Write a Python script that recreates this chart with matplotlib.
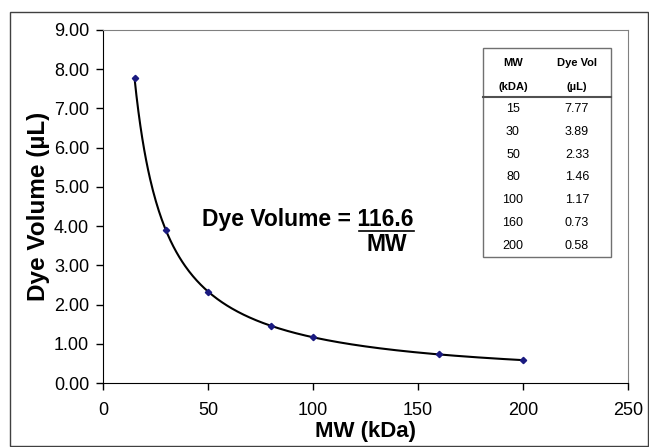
import numpy as np
import matplotlib.pyplot as plt
from matplotlib.patches import Rectangle
from matplotlib.lines import Line2D

plt.rcParams['font.family'] = ['Liberation Sans', 'DejaVu Sans']

# data
mw = [15, 30, 50, 80, 100, 160, 200]
dye_vol = [7.77, 3.89, 2.33, 1.46, 1.17, 0.73, 0.58]
table_header = [("MW", "Dye Vol"), ("(kDA)", "(\u00b5L)")]
mw_labels = ["15", "30", "50", "80", "100", "160", "200"]
vol_labels = ["7.77", "3.89", "2.33", "1.46", "1.17", "0.73", "0.58"]

W, H = 649, 447
fig = plt.figure(figsize=(W / 100, H / 100), dpi=100)


def fx(px):
    return px / W


def fy(py):
    return 1 - py / H


# outer chart frame
fig.patches.append(Rectangle((fx(10), fy(446)), fx(638), fy(12) - fy(446),
                             transform=fig.transFigure, fill=False,
                             edgecolor='#404040', lw=1.0))

ax = fig.add_axes([fx(103), fy(383), fx(628) - fx(103), fy(30) - fy(383)])

# power trendline fitted to the points (y = a * x^b)
b, log_a = np.polyfit(np.log(mw), np.log(dye_vol), 1)
xs = np.linspace(min(mw), max(mw), 400)
ax.plot(xs, np.exp(log_a) * xs ** b, color='black', lw=1.5, zorder=2)
ax.plot(mw, dye_vol, linestyle='none', marker='D', markersize=3.2,
        color='#1a1a80', zorder=3)

ax.set_xlim(0, 250)
ax.set_ylim(0, 9)
ax.set_xticks(np.arange(0, 251, 50))
ax.set_yticks(np.arange(0, 9.01, 1))
ax.set_yticklabels([f"{v:.2f}" for v in np.arange(0, 9.01, 1)])
ax.tick_params(direction='out', length=5, width=1, labelsize=13, color='black')
ax.tick_params(axis='x', pad=9)
ax.tick_params(axis='y', pad=5)
for side in ['top', 'right']:
    ax.spines[side].set_color('#808080')
for side in ['left', 'bottom']:
    ax.spines[side].set_color('black')

ax.set_xlabel("MW (kDa)", fontsize=16, fontweight='bold', labelpad=1)
ax.set_ylabel("Dye Volume (\u00b5L)", fontsize=17.5, fontweight='bold', labelpad=3)

# equation
fig.text(fx(413), fy(219), "Dye Volume = 116.6", ha='right', va='center',
         fontsize=16.5, fontweight='bold')
fig.add_artist(Line2D([fx(359), fx(414)], [fy(231), fy(231)], color='black', lw=1.2))
fig.text(fx(387), fy(245), "MW", ha='center', va='center', fontsize=16.5, fontweight='bold')

# table in the corner
fig.patches.append(Rectangle((fx(483), fy(257)), fx(611) - fx(483), fy(48) - fy(257),
                             transform=fig.transFigure, facecolor='white',
                             edgecolor='#707070', lw=1.0, zorder=5))
fig.add_artist(Line2D([fx(483), fx(611)], [fy(97), fy(97)], color='#505050', lw=1.5, zorder=6))
col1, col2 = fx(513), fx(577)
for r, (a, b_) in enumerate(table_header):
    yy = fy(63 + r * 24)
    fig.text(col1, yy, a, ha='center', va='center', fontsize=8, fontweight='bold', zorder=7)
    fig.text(col2, yy, b_, ha='center', va='center', fontsize=8, fontweight='bold', zorder=7)
for r, (a, b_) in enumerate(zip(mw_labels, vol_labels)):
    yy = fy(109 + r * 22.8)
    fig.text(col1, yy, a, ha='center', va='center', fontsize=9, zorder=7)
    fig.text(col2, yy, b_, ha='center', va='center', fontsize=9, zorder=7)

fig.savefig("out.png", dpi=100)
